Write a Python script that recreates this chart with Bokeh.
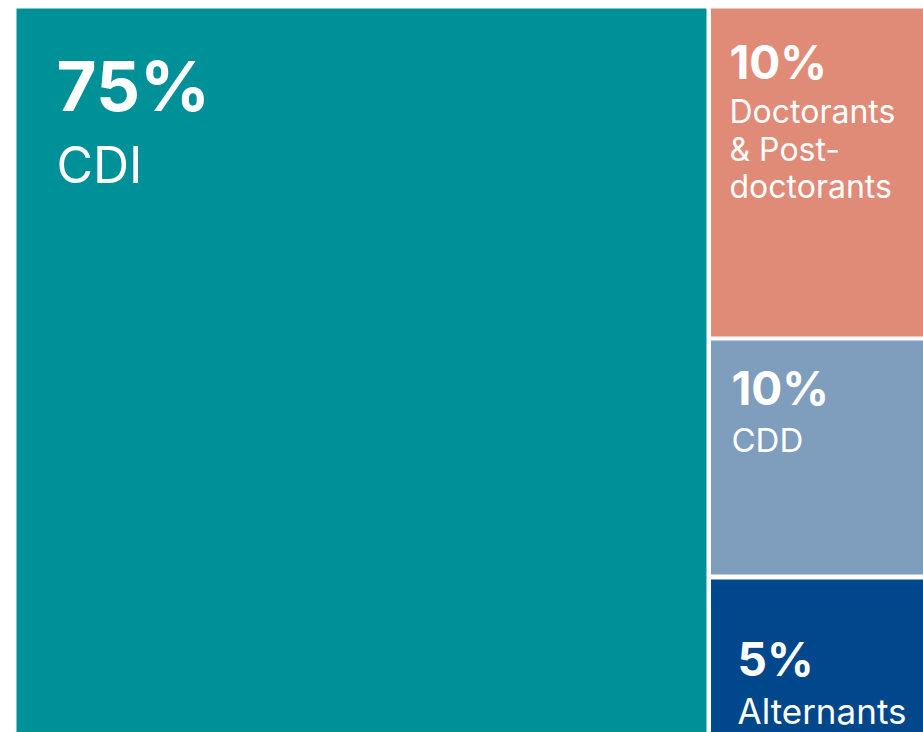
from bokeh.plotting import figure
from bokeh.models import ColumnDataSource, Range1d
from bokeh.embed import file_html
from bokeh.resources import INLINE
from bokeh.core.properties import value

# ---- data ----
categories = ["CDI", "Doctorants & Post-doctorants", "CDD", "Alternants"]
shares = [75, 10, 10, 5]
label_lines = [["CDI"], ["Doctorants", "& Post-", "doctorants"], ["CDD"], ["Alternants"]]
colors = ["#009098", "#e08b77", "#7f9dbc", "#00478b"]

# ---- layout (pixels in plot space) ----
W, H = 923, 732
origin_x, origin_y = 16, 8
total_w = 923.0          # the full treemap width (extends past the window)
gap = 4.5
left_share = shares[0] / 100.0
split_x = origin_x + total_w * left_share
# right column row boundaries (designed heights)
row_tops = [origin_y, 340, 579]
row_bottoms = [336, 574, 900]

lefts, rights, tops, bottoms = [], [], [], []
lefts.append(origin_x); rights.append(split_x - gap / 2); tops.append(origin_y); bottoms.append(900)
for t, b in zip(row_tops, row_bottoms):
    lefts.append(split_x + gap / 2); rights.append(origin_x + total_w); tops.append(t); bottoms.append(b)

rects = ColumnDataSource(dict(left=lefts, right=rights, top=tops, bottom=bottoms, color=colors))

# text placement relative to each cell (vertical = middle of the capitals)
pad_x = [40, 18.5, 20.5, 26.5]
pct_mid = [77.5, 53.5, 47.5, 79.5]
lab_mid = [156, 103, 99, 131]
lab_step = [0, 37.5, 0, 0]
pct_size = ["69px", "46px", "46px", "46px"]
lab_size = ["50px", "32px", "33px", "35px"]

px, py, pt, ps = [], [], [], []
lx, ly, lt, ls = [], [], [], []
for i in range(len(categories)):
    px.append(lefts[i] + pad_x[i]); py.append(tops[i] + pct_mid[i])
    pt.append(f"{shares[i]}%"); ps.append(pct_size[i])
    for j, line in enumerate(label_lines[i]):
        lx.append(lefts[i] + pad_x[i]); ly.append(tops[i] + lab_mid[i] + j * lab_step[i])
        lt.append(line); ls.append(lab_size[i])

p = figure(width=W, height=H, output_backend="svg", toolbar_location=None,
           x_range=Range1d(0, W), y_range=Range1d(H, 0),
           min_border=0, outline_line_color=None, background_fill_color="white",
           border_fill_color="white")
p.axis.visible = False
p.grid.visible = False

p.quad(left="left", right="right", top="top", bottom="bottom", color="color",
       line_color=None, source=rects)

p.text(x=px, y=py, text=pt, text_font_size=ps, text_color="white",
       text_font=value("Inter"), text_font_style="bold", text_baseline="middle",
       text_align="left")
p.text(x=lx, y=ly, text=lt, text_font_size=ls, text_color="white",
       text_font=value("Inter"), text_baseline="middle", text_align="left")

open("out.html", "w").write(file_html(p, INLINE))
